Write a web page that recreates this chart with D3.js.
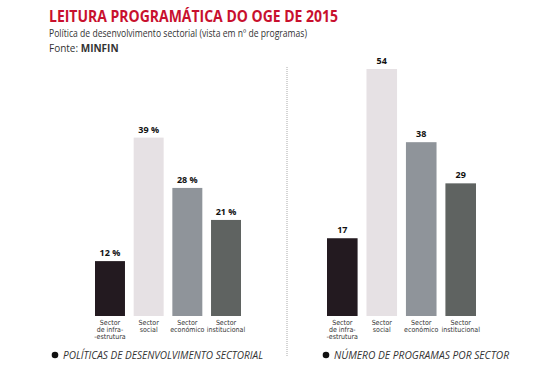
<html>
<head>
<meta charset="utf-8">
<script src="https://cdnjs.cloudflare.com/ajax/libs/d3/7.8.5/d3.min.js"></script>
<style>
  body { margin: 0; background: #fff; }
  text { font-family: "Open Sans", "Liberation Sans", sans-serif; }
</style>
</head>
<body>
<div id="chart"></div>
<script>
  // data
  var sectors = ["infra", "social", "economico", "institucional"];
  var sectorLabels = [
    ["Sector", "de infra-", "-estrutura"],
    ["Sector", "social"],
    ["Sector", "económico"],
    ["Sector", "institucional"]
  ];
  var percentValues = [12, 39, 28, 21];
  var programValues = [17, 54, 38, 29];
  var barColors = ["#231a20", "#e6e1e4", "#8f949a", "#5f6361"];

  var svg = d3.select("#chart").append("svg")
    .attr("width", 560).attr("height", 374);

  // title block
  svg.append("text")
    .attr("x", 49).attr("y", 22)
    .style("font-size", "16px").style("font-weight", "bold")
    .style("fill", "#c8102e")
    .attr("textLength", 289).attr("lengthAdjust", "spacingAndGlyphs")
    .text("LEITURA PROGRAMÁTICA DO OGE DE 2015");
  svg.append("text")
    .attr("x", 49).attr("y", 37)
    .style("font-size", "10px").style("fill", "#333")
    .attr("textLength", 258).attr("lengthAdjust", "spacingAndGlyphs")
    .text("Política de desenvolvimento sectorial (vista em nº de programas)");
  var fonte = svg.append("text")
    .attr("x", 49).attr("y", 52)
    .style("font-size", "10px").style("fill", "#333");
  fonte.append("tspan").text("Fonte: ");
  fonte.append("tspan").style("font-weight", "bold").text("MINFIN");

  // same vertical scale for both panels
  var y = d3.scaleLinear().domain([0, 54]).range([316, 69]);

  function panel(values, x0, x1, fmt, legend, legendX, legendW) {
    var x = d3.scaleBand().domain(sectors).range([x0, x1])
      .paddingInner(0.225).paddingOuter(0);
    var g = svg.append("g");

    g.selectAll("rect").data(values).enter().append("rect")
      .attr("x", function (d, i) { return x(sectors[i]); })
      .attr("y", function (d) { return y(d); })
      .attr("width", x.bandwidth())
      .attr("height", function (d) { return y(0) - y(d); })
      .style("fill", function (d, i) { return barColors[i]; });

    g.selectAll(".val").data(values).enter().append("text")
      .attr("class", "val")
      .attr("x", function (d, i) { return x(sectors[i]) + x.bandwidth() / 2; })
      .attr("y", function (d) { return y(d) - 5; })
      .attr("text-anchor", "middle")
      .style("font-size", "9px").style("font-weight", "bold").style("fill", "#111")
      .text(fmt);

    sectorLabels.forEach(function (lines, i) {
      var t = g.append("text")
        .attr("text-anchor", "middle")
        .style("font-family", "'DejaVu Sans Condensed', 'DejaVu Sans', sans-serif")
        .style("font-stretch", "condensed")
        .style("font-size", "7px").style("fill", "#333");
      lines.forEach(function (l, j) {
        t.append("tspan")
          .attr("x", x(sectors[i]) + x.bandwidth() / 2)
          .attr("y", 324.5 + j * 7.4)
          .text(l);
      });
    });

    g.append("circle").attr("cx", legendX).attr("cy", 355).attr("r", 3.3)
      .style("fill", "#111");
    g.append("text").attr("x", legendX + 8).attr("y", 359)
      .style("font-size", "11px").style("font-style", "italic").style("fill", "#333")
      .attr("textLength", legendW).attr("lengthAdjust", "spacingAndGlyphs")
      .text(legend);
  }

  panel(percentValues, 95, 241, function (d) { return d + " %"; },
    "POLÍTICAS DE DESENVOLVIMENTO SECTORIAL", 55, 200);
  panel(programValues, 327, 476, function (d) { return d; },
    "NÚMERO DE PROGRAMAS POR SECTOR", 326, 175);

  // dotted divider
  svg.append("line")
    .attr("x1", 287).attr("x2", 287).attr("y1", 67).attr("y2", 356)
    .style("stroke", "#aaa").style("stroke-width", 1)
    .style("stroke-dasharray", "1,1");
</script>
</body>
</html>
